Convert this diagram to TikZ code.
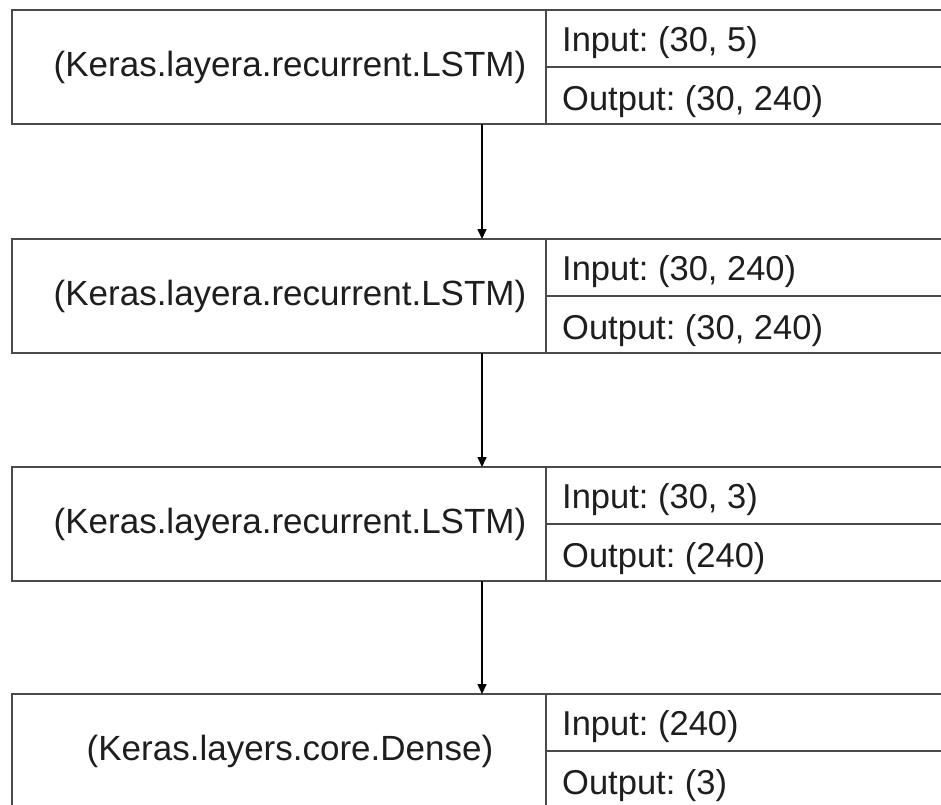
\documentclass[tikz,border=0pt]{standalone}
\usepackage{fontspec}
\setmainfont{Liberation Sans}
\usetikzlibrary{arrows.meta}
\definecolor{boxline}{HTML}{4A4A4A}
\definecolor{txt}{HTML}{1E1E1E}
\frenchspacing
\tikzset{
  leftcell/.style={draw=boxline, line width=2pt, minimum width=534pt, minimum height=114pt,
    inner sep=0pt, outer sep=0pt, anchor=north west},
  rightcell/.style={draw=boxline, line width=2pt, minimum width=420pt, minimum height=57pt,
    inner sep=0pt, outer sep=0pt, anchor=north west},
  ltext/.style={text=txt, font=\fontsize{35}{41}\selectfont\frenchspacing, inner sep=0pt},
  rtext/.style={text=txt, font=\fontsize{34.5}{41}\selectfont\frenchspacing, inner sep=0pt, anchor=base west},
  flow/.style={draw=black, line width=1.5pt, -{Triangle[length=10pt,width=9pt]}}
}
\begin{document}
\begin{tikzpicture}[x=1pt,y=-1pt]
\useasboundingbox (0,0) rectangle (941,804);
\clip (0,0) rectangle (941,804);
\fill[white] (0,0) rectangle (941,804);
\coordinate (ax) at (482,0);
% box 1
\node[leftcell] (L1) at (12,10) {};
\node[rightcell] (I1) at (546,10) {};
\node[rightcell] (O1) at (546,67) {};
\node[ltext] (T1) at (290,67) {(Keras.layera.recurrent.LSTM)};
\node[rtext] (TI1) at (562,51) {Input: (30, 5)};
\node[rtext] (TO1) at (562,110) {Output: (30, 240)};
% box 2
\node[leftcell] (L2) at (12,239) {};
\node[rightcell] (I2) at (546,239) {};
\node[rightcell] (O2) at (546,296) {};
\node[ltext] (T2) at (290,296) {(Keras.layera.recurrent.LSTM)};
\node[rtext] (TI2) at (562,280) {Input: (30, 240)};
\node[rtext] (TO2) at (562,339) {Output: (30, 240)};
% box 3
\node[leftcell] (L3) at (12,467) {};
\node[rightcell] (I3) at (546,467) {};
\node[rightcell] (O3) at (546,524) {};
\node[ltext] (T3) at (290,524) {(Keras.layera.recurrent.LSTM)};
\node[rtext] (TI3) at (562,508) {Input: (30, 3)};
\node[rtext] (TO3) at (562,567) {Output: (240)};
% box 4
\node[leftcell] (L4) at (12,694) {};
\node[rightcell] (I4) at (546,694) {};
\node[rightcell] (O4) at (546,751) {};
\node[ltext] (T4) at (290,751) {(Keras.layers.core.Dense)};
\node[rtext] (TI4) at (562,735) {Input: (240)};
\node[rtext] (TO4) at (562,794) {Output: (3)};
% connectors
\draw[flow] (L1.south -| ax) -- (L2.north -| ax);
\draw[flow] (L2.south -| ax) -- (L3.north -| ax);
\draw[flow] (L3.south -| ax) -- (L4.north -| ax);
\end{tikzpicture}
\end{document}
